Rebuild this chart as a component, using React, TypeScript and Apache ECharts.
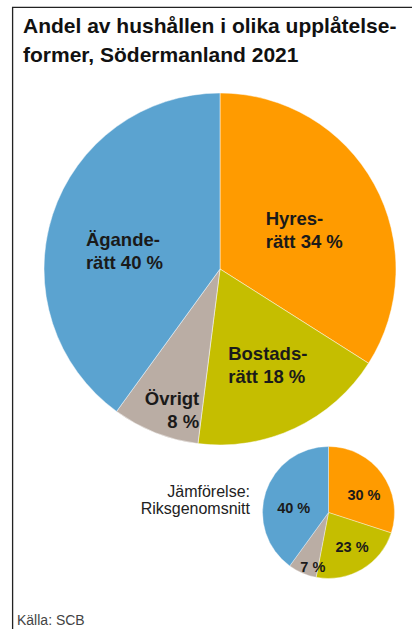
import React, { useEffect, useRef } from "react";
import * as echarts from "echarts";

const titleText = "Andel av hushållen i olika upplåtelse-\nformer, Södermanland 2021";
const categories = ["Hyresrätt", "Bostadsrätt", "Övrigt", "Äganderätt"];
const labelLinesBig = [["Hyres-", "rätt"], ["Bostads-", "rätt"], ["Övrigt"], ["Ägande-", "rätt"]];
const valuesSodermanland = [34, 18, 8, 40];
const valuesRiket = [30, 23, 7, 40];
const compareText = "Jämförelse:\nRiksgenomsnitt";
const sourceText = "Källa: SCB";

const colors = ["#FF9B00", "#C5BE00", "#BAADA4", "#5BA3D0"];
const bigAlign = ["l", "l", "r", "l"];
const bigOffsets = [[4.5, 5], [9, 13.5], [-14.5, 56], [-9, 10.3]];
const smallOffsets = [[6.3, 3.9], [5.2, 3.1], [-1.4, 21.2], [-0.6, 6.7]];

const FONT = "'Liberation Sans', Arial, Helvetica, sans-serif";
const TXT = "#1a1a1a";

export default function App() {
  const ref = useRef<HTMLDivElement>(null);
  useEffect(() => {
    if (!ref.current) return;
    const chart = echarts.init(ref.current, null, { renderer: "svg" });
    const richBig = {
      l: { align: "left", fontSize: 18.5, fontWeight: "bold", lineHeight: 23, color: TXT, fontFamily: FONT },
      r: { align: "right", fontSize: 18.5, fontWeight: "bold", lineHeight: 23, color: TXT, fontFamily: FONT },
    };
    chart.setOption({
      animation: false,
      textStyle: { fontFamily: FONT },
      title: {
        text: titleText,
        left: 23,
        top: 11,
        padding: 0,
        textStyle: { fontSize: 21, fontWeight: "bold", lineHeight: 29, color: "#111", fontFamily: FONT },
      },
      graphic: [
        {
          type: "polyline",
          shape: { points: [[12.6, 700], [12.6, 7.3], [700, 7.3]] },
          style: { stroke: "#222", lineWidth: 1.3, fill: "none" },
          silent: true,
        },
        {
          type: "text",
          x: 250,
          y: 500,
          style: {
            text: compareText,
            align: "right",
            verticalAlign: "middle",
            fontSize: 16,
            lineHeight: 17.5,
            fontFamily: FONT,
            fill: "#222",
          },
          silent: true,
        },
        {
          type: "text",
          x: 17,
          y: 620,
          style: {
            text: sourceText,
            align: "left",
            verticalAlign: "middle",
            fontSize: 14,
            lineHeight: 16,
            fontFamily: FONT,
            fill: "#444",
          },
          silent: true,
        },
      ],
      series: [
        {
          type: "pie",
          center: [220, 269],
          radius: 176,
          startAngle: 90,
          clockwise: true,
          silent: true,
          itemStyle: { borderColor: "rgba(255,255,255,0.6)", borderWidth: 0.8 },
          label: {
            show: true,
            position: "inside",
            formatter: (p: any) => {
              const lines = labelLinesBig[p.dataIndex].slice();
              const st = bigAlign[p.dataIndex];
              if (lines.length > 1) {
                lines[lines.length - 1] = lines[lines.length - 1] + " " + p.value + " %";
              } else {
                lines.push(p.value + " %");
              }
              return lines.map((s) => `{${st}|${s}}`).join("\n");
            },
            rich: richBig,
          },
          labelLine: { show: false },
          labelLayout: (p: any) => ({ dx: bigOffsets[p.dataIndex][0], dy: bigOffsets[p.dataIndex][1] }),
          data: categories.map((c, i) => ({ name: c, value: valuesSodermanland[i], itemStyle: { color: colors[i] } })),
        },
        {
          type: "pie",
          center: [328.5, 512.5],
          radius: 66,
          startAngle: 90,
          clockwise: true,
          silent: true,
          itemStyle: { borderColor: "rgba(255,255,255,0.6)", borderWidth: 0.6 },
          label: {
            show: true,
            position: "inside",
            formatter: (p: any) => p.value + " %",
            fontSize: 14.5,
            fontWeight: "bold",
            color: TXT,
            fontFamily: FONT,
          },
          labelLine: { show: false },
          labelLayout: (p: any) => ({ dx: smallOffsets[p.dataIndex][0], dy: smallOffsets[p.dataIndex][1] }),
          data: categories.map((c, i) => ({ name: c, value: valuesRiket[i], itemStyle: { color: colors[i] } })),
        },
      ],
    });
    return () => chart.dispose();
  }, []);
  return (
    <div
      ref={ref}
      style={{ position: "absolute", left: 0, top: 0, width: 412, height: 629, background: "#fff" }}
    />
  );
}
